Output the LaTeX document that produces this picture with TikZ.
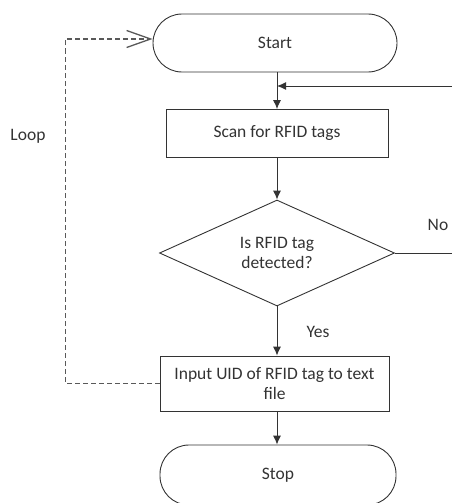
\documentclass[tikz,border=0pt]{standalone}
\usepackage{fontspec}
\setmainfont{Carlito}
\usepackage{tikz}
\usetikzlibrary{shapes,arrows.meta,positioning}

\tikzset{
  termbox/.style={draw, rounded corners=29pt, minimum width=244pt, minimum height=58pt},
  procbox/.style={draw, minimum width=222pt, minimum height=48pt, align=center},
  decbox/.style={draw, diamond, aspect=2.2, inner sep=0pt, minimum width=235pt, minimum height=106pt, align=center},
  flowline/.style={->, >={Latex[length=9pt,width=8pt]}},
  loopline/.style={black!65, line width=1.3pt, dash pattern=on 5pt off 3pt, -{Straight Barb[length=24pt,width=17pt]}}
}

\begin{document}
\begin{tikzpicture}[x=1pt, y=-1pt, line width=0.9pt, draw=black!80, text=black!80,
  font=\fontsize{17.5}{20}\selectfont]

	\useasboundingbox (0,0) rectangle (452,503);

	\node[termbox] (start) at (275,43) {Start};
	\node[procbox] (scan) at (277,133.5) {Scan for RFID tags};
	\node[decbox] (detect) at (277,253) {Is RFID tag\\detected?};
	\node[procbox, minimum width=229pt, minimum height=55pt] (input) at (274.5,383.5) {Input UID of RFID tag to text\\file};
	\node[termbox, minimum width=236pt, minimum height=60pt] (stop) at (278,475) {Stop};

	\coordinate (noend) at (452,253);
	\coordinate (backin) at (452,86);
	\coordinate (join) at (277,86);

	\draw[flowline] (start.south -| scan.north) -- (scan.north);
	\draw[flowline] (backin) -- (join);
	\draw[flowline] (scan.south) -- (detect.north);
	\draw (detect.east) -- (noend);
	\draw[flowline] (detect.south) -- (detect.south |- input.north);
	\draw[flowline] (input.south -| detect.south) -- (detect.south |- stop.north);

	\draw[loopline] (input.west) -- ++(-94,0) |- ([yshift=4pt]start.west);

	\node (looplbl) at (28,136) {Loop};
	\node (nolbl) at (438,225) {No};
	\node (yeslbl) at (318,332) {Yes};

\end{tikzpicture}
\end{document}
